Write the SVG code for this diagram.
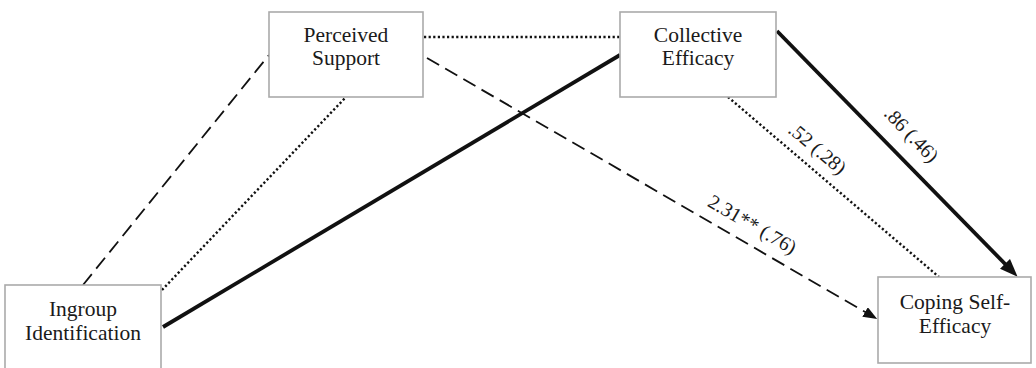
<svg xmlns="http://www.w3.org/2000/svg" width="1036" height="368" viewBox="0 0 1036 368">
  <style>
    .box { fill: #ffffff; stroke: #aaaaaa; stroke-width: 1.6; }
    .lbl { font-family: "Liberation Serif", "Times New Roman", serif; font-size: 21.5px; fill: #1a1a1a; text-anchor: middle; }
    .coef { font-family: "Liberation Serif", "Times New Roman", serif; font-size: 20px; fill: #1a1a1a; text-anchor: middle; }
    .dash { fill: none; stroke: #111111; stroke-width: 1.8; stroke-dasharray: 14 7; }
    .dot { fill: none; stroke: #111111; stroke-width: 2.4; stroke-dasharray: 2.2 2.4; }
    .solid { fill: none; stroke: #111111; stroke-width: 3.8; }
  </style>
  <defs>
    <marker id="arrowSmall" markerUnits="userSpaceOnUse" markerWidth="16" markerHeight="12" refX="8" refY="5.5" orient="auto">
      <path d="M0,0 L14,5.5 L0,11 Z" fill="#111111"/>
    </marker>
    <marker id="arrowBig" markerUnits="userSpaceOnUse" markerWidth="20" markerHeight="16" refX="10" refY="7" orient="auto">
      <path d="M0,0 L18,7 L0,14 Z" fill="#111111"/>
    </marker>
  </defs>

  <g id="connectors">
    <line class="dash" x1="83" y1="285" x2="269" y2="55"/>
    <line class="dot" x1="162" y1="290" x2="346" y2="97"/>
    <line class="solid" x1="163" y1="327" x2="620" y2="55"/>
    <line class="dot" x1="424" y1="37" x2="620" y2="37"/>
    <line class="dash" x1="427" y1="58" x2="872" y2="316" marker-end="url(#arrowSmall)"/>
    <line class="dot" x1="728" y1="97" x2="939" y2="277"/>
    <line class="solid" x1="777" y1="31" x2="1012" y2="271" marker-end="url(#arrowBig)"/>
    <text class="coef" x="911" y="141" transform="rotate(46 911 135)">.86 (.46)</text>
    <text class="coef" x="817" y="155" transform="rotate(40 817 149)">.52 (.28)</text>
    <text class="coef" x="752" y="231" transform="rotate(30 752 225)">2.31** (.76)</text>
  </g>

  <g id="perceived-support">
    <rect class="box" x="269" y="12" width="154" height="85"/>
    <text class="lbl" x="346" y="42">Perceived</text>
    <text class="lbl" x="346" y="65">Support</text>
  </g>

  <g id="collective-efficacy">
    <rect class="box" x="620" y="12" width="156" height="85"/>
    <text class="lbl" x="698" y="42">Collective</text>
    <text class="lbl" x="698" y="65">Efficacy</text>
  </g>

  <g id="ingroup-identification">
    <rect class="box" x="5" y="285" width="156" height="100"/>
    <text class="lbl" x="83" y="316">Ingroup</text>
    <text class="lbl" x="83" y="340">Identification</text>
  </g>

  <g id="coping-self-efficacy">
    <rect class="box" x="878" y="277" width="153" height="86"/>
    <text class="lbl" x="955" y="309">Coping Self-</text>
    <text class="lbl" x="955" y="333">Efficacy</text>
  </g>
</svg>
